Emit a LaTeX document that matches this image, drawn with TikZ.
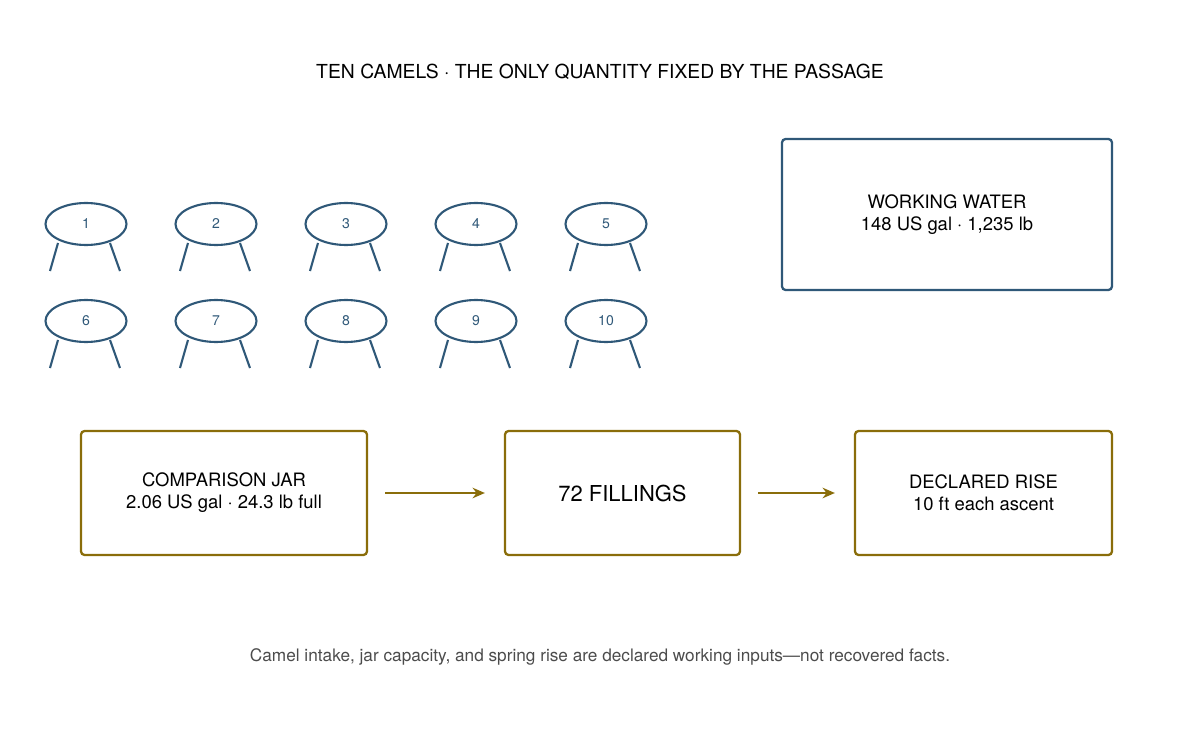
\documentclass[tikz,border=0pt]{standalone}
\usepackage{fontspec}
\setmainfont{TeX Gyre Heros}
\usetikzlibrary{positioning,shapes.geometric,arrows.meta}
\definecolor{camelblue}{HTML}{2F5878}
\definecolor{jarolive}{HTML}{8A6D0A}
\tikzset{
  camel/.style={draw=camelblue, line width=1.2pt, ellipse, minimum width=1.62cm, minimum height=0.84cm, text=camelblue, font=\fontsize{8}{9}\selectfont},
  leg/.style={draw=camelblue, line width=1.2pt},
  bluebox/.style={draw=camelblue, line width=1.3pt, rounded corners=2pt, align=center, font=\fontsize{10.5}{12.5}\selectfont},
  olivebox/.style={draw=jarolive, line width=1.3pt, rounded corners=2pt, align=center, font=\fontsize{10.5}{12.5}\selectfont},
  flow/.style={draw=jarolive, line width=1.3pt, -{Stealth[length=7pt,width=6pt]}}
}
\begin{document}
\begin{tikzpicture}[x=0.02cm,y=-0.02cm]
  \useasboundingbox (0,0) rectangle (1200,746);
  \node (title) at (600,72) {\fontsize{11}{13}\selectfont TEN CAMELS · THE ONLY QUANTITY FIXED BY THE PASSAGE};
  % camels
  \foreach \n in {1,...,10}{
    \pgfmathtruncatemacro{\col}{mod(\n-1,5)}
    \pgfmathtruncatemacro{\row}{(\n-1)/5}
    \node[camel] (c\n) at (86+130*\col, 224+97*\row) {\n};
    \draw[leg] ([xshift=-0.56cm,yshift=-0.38cm]c\n.center) -- ++(-0.16cm,-0.56cm);
    \draw[leg] ([xshift=0.48cm,yshift=-0.38cm]c\n.center) -- ++(0.2cm,-0.56cm);
  }
  \node[bluebox, minimum width=6.6cm, minimum height=3.02cm] (water) at (947,214.5) {WORKING WATER\\148 US gal · 1,235 lb};
  % flow
  \node[olivebox, minimum width=5.72cm, minimum height=2.48cm] (jar) at (224,493) {COMPARISON JAR\\2.06 US gal · 24.3 lb full};
  \node[olivebox, minimum width=4.7cm, minimum height=2.48cm, font=\fontsize{12.5}{14}\selectfont] (fill) at (622.5,493) {72 FILLINGS};
  \node[olivebox, minimum width=5.14cm, minimum height=2.48cm] (rise) at (983.5,493) {DECLARED RISE\\10 ft each ascent};
  \draw[flow] ([xshift=0.34cm]jar.east) -- ([xshift=-0.38cm]fill.west);
  \draw[flow] ([xshift=0.34cm]fill.east) -- ([xshift=-0.38cm]rise.west);
  \node[text=black!70, font=\fontsize{9.8}{12}\selectfont] (note) at (600,657) {Camel intake, jar capacity, and spring rise are declared working inputs—not recovered facts.};
\end{tikzpicture}
\end{document}
